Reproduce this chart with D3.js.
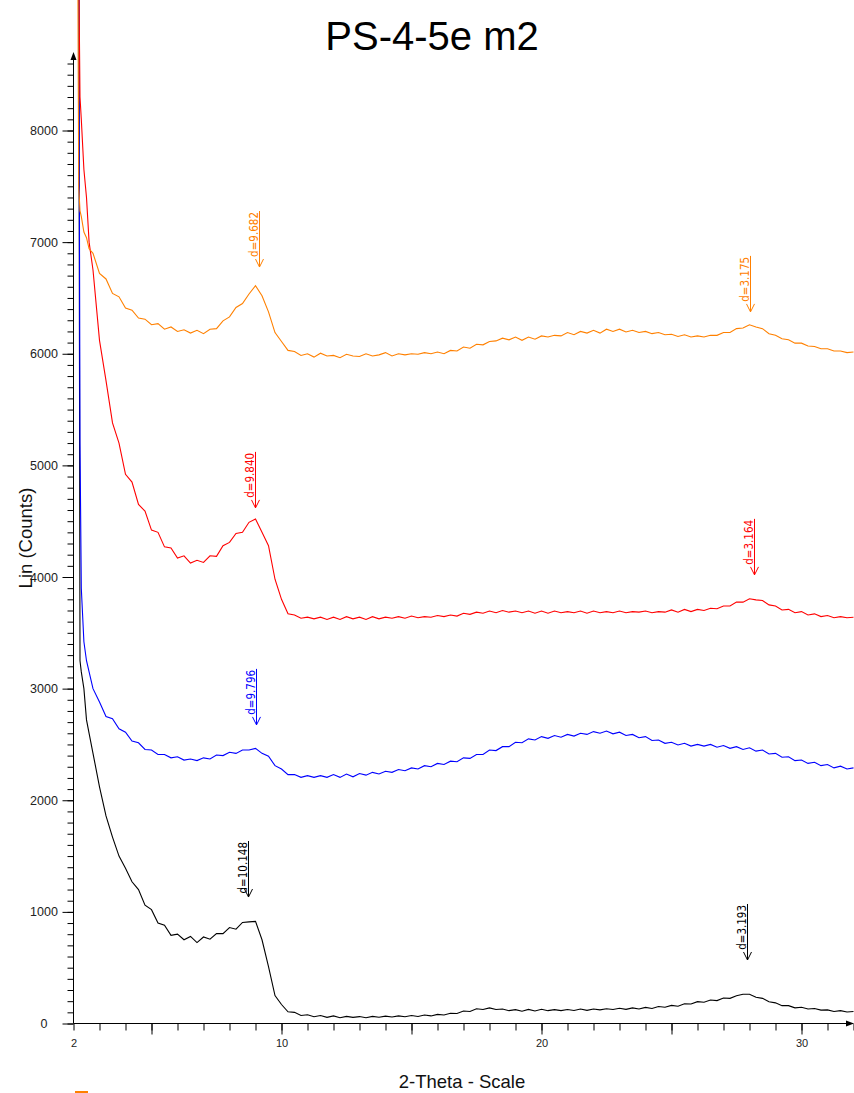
<!DOCTYPE html>
<html>
<head>
<meta charset="utf-8">
<script src="https://cdn.jsdelivr.net/npm/d3@7"></script>
<style>
  html, body { margin: 0; padding: 0; background: #fff; }
  svg { display: block; font-family: 'Liberation Sans', Arial, sans-serif; }
</style>
</head>
<body>
<div id="chart"></div>
<script>
// 2-theta grid shared by all scans
const twoTheta = [2.15, 2.2, 2.25, 2.3, 2.4, 2.5, 2.6, 2.75,
  3, 3.25, 3.5, 3.75, 4, 4.25, 4.5, 4.75, 5, 5.25, 5.5, 5.75,
  6, 6.25, 6.5, 6.75, 7, 7.25, 7.5, 7.75, 8, 8.25, 8.5, 8.75,
  9, 9.25, 9.5, 9.75, 10, 10.25, 10.5, 10.75, 11, 11.25, 11.5, 11.75,
  12, 12.25, 12.5, 12.75, 13, 13.25, 13.5, 13.75, 14, 14.25, 14.5, 14.75,
  15, 15.25, 15.5, 15.75, 16, 16.25, 16.5, 16.75, 17, 17.25, 17.5, 17.75,
  18, 18.25, 18.5, 18.75, 19, 19.25, 19.5, 19.75, 20, 20.25, 20.5, 20.75,
  21, 21.25, 21.5, 21.75, 22, 22.25, 22.5, 22.75, 23, 23.25, 23.5, 23.75,
  24, 24.25, 24.5, 24.75, 25, 25.25, 25.5, 25.75, 26, 26.25, 26.5, 26.75,
  27, 27.25, 27.5, 27.75, 28, 28.25, 28.5, 28.75, 29, 29.25, 29.5, 29.75,
  30, 30.25, 30.5, 30.75, 31, 31.25, 31.5, 31.75, 32]

const orangeCounts = [10500, 7500, 7280, 7230, 7090, 7040, 6940, 6900,
  6720, 6670, 6540, 6510, 6410, 6390, 6320, 6310, 6260, 6270, 6220, 6240,
  6200, 6215, 6185, 6210, 6180, 6220, 6225, 6295, 6330, 6415, 6450, 6535,
  6610, 6520, 6375, 6190, 6110, 6030, 6020, 5985, 6000, 5970, 6005, 5980,
  5985, 5965, 5995, 5980, 5975, 6000, 5980, 5990, 6010, 5980, 6000, 5990,
  6000, 5995, 6010, 6000, 6015, 6000, 6030, 6025, 6060, 6050, 6085, 6080,
  6110, 6115, 6140, 6125, 6150, 6120, 6150, 6130, 6160, 6150, 6165, 6160,
  6190, 6170, 6200, 6185, 6210, 6185, 6220, 6200, 6220, 6195, 6210, 6190,
  6200, 6180, 6190, 6170, 6175, 6155, 6170, 6150, 6160, 6150, 6165, 6165,
  6190, 6190, 6225, 6230, 6260, 6240, 6225, 6180, 6165, 6135, 6125, 6095,
  6095, 6070, 6065, 6045, 6045, 6025, 6025, 6010, 6015]

const redCounts = [10500, 9500, 8300, 8100, 7650, 7400, 7000, 6750,
  6120, 5760, 5380, 5200, 4920, 4850, 4650, 4590, 4420, 4400, 4270, 4260,
  4170, 4190, 4125, 4150, 4130, 4190, 4185, 4280, 4310, 4390, 4400, 4490,
  4520, 4400, 4280, 3980, 3800, 3670, 3660, 3630, 3640, 3625, 3640, 3620,
  3640, 3620, 3645, 3625, 3640, 3620, 3645, 3625, 3640, 3630, 3645, 3630,
  3650, 3635, 3645, 3640, 3655, 3645, 3660, 3650, 3675, 3665, 3685, 3675,
  3695, 3680, 3700, 3685, 3695, 3680, 3695, 3675, 3695, 3675, 3695, 3680,
  3690, 3680, 3695, 3675, 3695, 3680, 3690, 3680, 3695, 3680, 3690, 3685,
  3695, 3680, 3690, 3685, 3705, 3685, 3710, 3690, 3710, 3700, 3720, 3715,
  3740, 3740, 3775, 3775, 3805, 3795, 3790, 3750, 3740, 3705, 3710, 3680,
  3690, 3660, 3670, 3645, 3655, 3635, 3645, 3635, 3640]

const blueCounts = [10500, 10000, 5200, 3900, 3420, 3250, 3150, 3000,
  2880, 2750, 2730, 2640, 2610, 2530, 2515, 2455, 2450, 2410, 2410, 2380,
  2390, 2360, 2370, 2355, 2380, 2370, 2405, 2400, 2430, 2420, 2450, 2450,
  2465, 2420, 2395, 2310, 2280, 2230, 2230, 2205, 2220, 2205, 2220, 2205,
  2230, 2205, 2235, 2210, 2240, 2225, 2250, 2235, 2260, 2250, 2275, 2265,
  2290, 2280, 2310, 2300, 2330, 2320, 2350, 2345, 2380, 2375, 2410, 2410,
  2450, 2445, 2480, 2480, 2520, 2515, 2550, 2540, 2570, 2555, 2580, 2565,
  2590, 2575, 2600, 2590, 2615, 2600, 2620, 2595, 2610, 2580, 2590, 2560,
  2570, 2535, 2540, 2510, 2520, 2495, 2510, 2485, 2500, 2485, 2500, 2475,
  2490, 2465, 2480, 2455, 2470, 2440, 2450, 2415, 2420, 2385, 2390, 2355,
  2360, 2330, 2340, 2310, 2320, 2290, 2305, 2280, 2290]

const blackCounts = [10500, 10000, 3250, 3150, 3000, 2720, 2600, 2420,
  2120, 1860, 1670, 1500, 1390, 1270, 1200, 1060, 1020, 900, 880, 790,
  800, 750, 780, 725, 775, 755, 805, 805, 860, 845, 905, 910,
  915, 750, 510, 250, 170, 105, 100, 72, 78, 60, 72, 55,
  68, 52, 64, 55, 62, 52, 64, 56, 66, 58, 68, 60,
  72, 63, 76, 68, 82, 76, 92, 90, 112, 108, 132, 125,
  140, 125, 130, 115, 124, 110, 126, 112, 128, 115, 124, 115,
  126, 116, 130, 118, 130, 122, 132, 125, 136, 127, 140, 130,
  144, 135, 152, 145, 162, 155, 176, 175, 196, 190, 210, 205,
  228, 225, 248, 262, 262, 235, 225, 195, 185, 160, 160, 140,
  145, 130, 135, 120, 122, 108, 115, 103, 108]

const seriesNames = ['black', 'blue', 'red', 'orange']
const seriesColors = ['#000000', '#0000ff', '#ff0000', '#ff8000']
const seriesCounts = [blackCounts, blueCounts, redCounts, orangeCounts]

// peak markers: position, arrow tip height, text, colour
const peakTheta = [9.12, 28.02, 8.98, 28.17, 9.02, 8.71, 27.9]
const peakTip = [6777, 6375, 4619, 4019, 2675, 1133, 569]
const peakLabel = ['d=9.682', 'd=3.175', 'd=9.840', 'd=3.164', 'd=9.796', 'd=10.148', 'd=3.193']
const peakColor = ['#ff8000', '#ff8000', '#ff0000', '#ff0000', '#0000ff', '#000000', '#000000']

const yLabelTicks = [0, 1000, 2000, 3000, 4000, 5000, 6000, 7000, 8000]
const xLabelTicks = [2, 10, 20, 30]

const width = 854
const height = 1093

const x = d3.scaleLinear().domain([2, 32]).range([73.5, 853.5])
const y = d3.scaleLinear().domain([0, 8000]).range([1023.5, 130.5])

const svg = d3.select('#chart').append('svg')
  .attr('width', width)
  .attr('height', height)

svg.append('defs').append('clipPath')
  .attr('id', 'plot-clip')
  .append('rect')
  .attr('x', 74).attr('y', 0)
  .attr('width', width - 74).attr('height', 1024)

// title
svg.append('text')
  .attr('x', 432).attr('y', 50)
  .attr('text-anchor', 'middle')
  .style('font-size', '40px')
  .text('PS-4-5e m2')

// y axis: minor ticks, major ticks with labels
const yMinor = d3.range(0, 8700, 100)
svg.append('g')
  .attr('transform', 'translate(73.5,0)')
  .call(d3.axisLeft(y).tickValues(yMinor).tickSize(6).tickFormat(''))
  .call(g => g.select('.domain').remove())

svg.append('g')
  .attr('class', 'y axis')
  .attr('transform', 'translate(73.5,0)')
  .call(d3.axisLeft(y).tickValues(yLabelTicks).tickSize(11).tickFormat(d3.format('d')))
  .call(g => g.select('.domain').remove())
  .call(g => g.selectAll('.tick text')
    .attr('x', -29.5)
    .attr('text-anchor', 'middle')
    .style('font-size', '12.5px')
    .style('font-family', "'Liberation Sans', Arial, sans-serif")
    .attr('fill', '#222'))

svg.selectAll('.tick line').attr('stroke', '#000')

svg.append('line')
  .attr('x1', 73.5).attr('x2', 73.5)
  .attr('y1', 1023.5).attr('y2', 56)
  .attr('stroke', '#000')
svg.append('path')
  .attr('d', 'M70.5,60 L73.5,52 L76.5,60 Z')
  .attr('fill', '#000')

// x axis
const xMinor = d3.range(2, 33, 1)
const xMajor = d3.range(5, 33, 5)
svg.append('g')
  .attr('transform', 'translate(0,1023.5)')
  .call(d3.axisBottom(x).tickValues(xMinor).tickSize(7).tickFormat(''))
  .call(g => g.select('.domain').remove())
svg.append('g')
  .attr('transform', 'translate(0,1023.5)')
  .call(d3.axisBottom(x).tickValues(xMajor).tickSize(11).tickFormat(''))
  .call(g => g.select('.domain').remove())
svg.append('g')
  .attr('class', 'x axis')
  .attr('transform', 'translate(0,1023.5)')
  .call(d3.axisBottom(x).tickValues(xLabelTicks).tickSize(0).tickFormat(d3.format('d')))
  .call(g => g.select('.domain').remove())
  .call(g => g.selectAll('.tick text')
    .attr('y', 20)
    .attr('dy', '0.32em')
    .style('font-size', '11px')
    .style('font-family', "'Liberation Sans', Arial, sans-serif")
    .attr('fill', '#222'))

svg.append('line')
  .attr('x1', 73.5).attr('x2', 853)
  .attr('y1', 1023.5).attr('y2', 1023.5)
  .attr('stroke', '#000')
svg.append('path')
  .attr('d', 'M846,1020.5 L854,1023.5 L846,1026.5 Z')
  .attr('fill', '#000')

// axis titles
svg.append('text')
  .attr('x', 462).attr('y', 1088)
  .attr('text-anchor', 'middle')
  .style('font-size', '18.5px')
  .attr('fill', '#111')
  .text('2-Theta - Scale')

svg.append('text')
  .attr('transform', 'translate(31.5,538) rotate(-90)')
  .attr('text-anchor', 'middle')
  .style('font-size', '18.5px')
  .attr('fill', '#111')
  .text('Lin (Counts)')

// scans
const line = d3.line()
  .x((d, i) => x(twoTheta[i]))
  .y(d => y(d))

svg.append('g')
  .attr('clip-path', 'url(#plot-clip)')
  .selectAll('path.scan')
  .data(seriesCounts)
  .join('path')
  .attr('class', (d, i) => 'scan ' + seriesNames[i])
  .attr('fill', 'none')
  .attr('stroke', (d, i) => seriesColors[i])
  .attr('stroke-width', 1.1)
  .attr('d', line)

// peak labels
const peaks = svg.append('g').attr('class', 'peaks')
  .selectAll('g')
  .data(peakTheta)
  .join('g')
  .attr('transform', (d, i) => 'translate(' + [Math.round(x(d)) + 0.5, y(peakTip[i])] + ')')

peaks.append('line')
  .attr('x1', 0).attr('x2', 0)
  .attr('y1', -56).attr('y2', 0)
  .attr('stroke', (d, i) => peakColor[i])
peaks.append('path')
  .attr('d', 'M-4,-8 L0,0 L4,-8')
  .attr('fill', 'none')
  .attr('stroke', (d, i) => peakColor[i])
peaks.append('text')
  .attr('transform', 'translate(-1.5,-55) rotate(-90)')
  .attr('text-anchor', 'end')
  .style('font-size', '11.5px')
  .style('font-family', "'Liberation Sans Narrow', 'DejaVu Sans Condensed', 'Liberation Sans', Arial, sans-serif")
  .attr('fill', (d, i) => peakColor[i])
  .text((d, i) => peakLabel[i])

// little orange mark under the axis
svg.append('rect')
  .attr('x', 75).attr('y', 1091)
  .attr('width', 13).attr('height', 2)
  .attr('fill', '#ff8000')
</script>
</body>
</html>
